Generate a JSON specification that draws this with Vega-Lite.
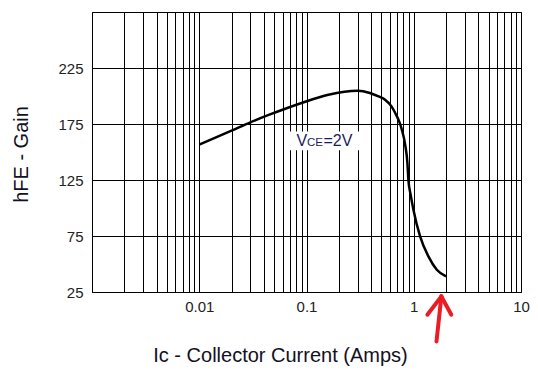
{
  "$schema": "https://vega.github.io/schema/vega-lite/v6.json",
  "autosize": {"type": "none"},
  "padding": {"left": 92, "top": 12, "right": 17, "bottom": 90},
  "width": 429,
  "height": 280,
  "background": "white",
  "config": {
    "view": {"stroke": "black", "strokeWidth": 1},
    "font": "Liberation Sans",
    "axis": {
      "grid": true,
      "gridColor": "black",
      "gridOpacity": 1,
      "gridWidth": 1,
      "ticks": false,
      "domain": false,
      "labelFont": "Liberation Sans",
      "labelFontSize": 15,
      "labelColor": "#222222",
      "titleFont": "Liberation Sans",
      "titleFontSize": 20,
      "titleFontWeight": "normal",
      "titleColor": "#111122",
      "labelOverlap": false,
      "labelFlush": false
    }
  },
  "datasets": {
    "curve": [
      {"ic": 0.01, "hfe": 156.5},
      {"ic": 0.02, "hfe": 169},
      {"ic": 0.03, "hfe": 176.5},
      {"ic": 0.045, "hfe": 183.3},
      {"ic": 0.09, "hfe": 193.8},
      {"ic": 0.16, "hfe": 201.2},
      {"ic": 0.3, "hfe": 204.7},
      {"ic": 0.39, "hfe": 202.7},
      {"ic": 0.47, "hfe": 199.6},
      {"ic": 0.54, "hfe": 196.7},
      {"ic": 0.62, "hfe": 190.7},
      {"ic": 0.67, "hfe": 185},
      {"ic": 0.74, "hfe": 176},
      {"ic": 0.774, "hfe": 170},
      {"ic": 0.83, "hfe": 157},
      {"ic": 0.873, "hfe": 140},
      {"ic": 0.891, "hfe": 125.3},
      {"ic": 0.935, "hfe": 111.9},
      {"ic": 0.993, "hfe": 98.5},
      {"ic": 1.146, "hfe": 74.6},
      {"ic": 1.37, "hfe": 56.8},
      {"ic": 1.64, "hfe": 44.9},
      {"ic": 2.0, "hfe": 38.9}
    ],
    "box": [{"x1": 0.063, "x2": 0.316, "y1": 151.5, "y2": 168.4}],
    "note": [{"ic": 0.0805, "hfe": 155.2}],
    "arrow": [
      {"xa": 1.63, "ya": -19.1, "xb": 1.81, "yb": 21.1},
      {"xa": 1.34, "ya": 4.7, "xb": 1.81, "yb": 21.1},
      {"xa": 2.24, "ya": 4.7, "xb": 1.81, "yb": 21.1}
    ]
  },
  "layer": [
    {
      "data": {"name": "box"},
      "mark": {"type": "rect", "fill": "white", "stroke": null},
      "encoding": {
        "x": {
          "field": "x1", "type": "quantitative",
          "scale": {"type": "log", "domain": [0.001, 10], "nice": false},
          "axis": {
            "values": [0.001,0.002,0.003,0.004,0.005,0.006,0.007,0.008,0.009,0.01,0.02,0.03,0.04,0.05,0.06,0.07,0.08,0.09,0.1,0.2,0.3,0.4,0.5,0.6,0.7,0.8,0.9,1,2,3,4,5,6,7,8,9,10],
            "labelExpr": "datum.value == 0.01 ? '0.01' : datum.value == 0.1 ? '0.1' : datum.value == 1 ? '1' : datum.value == 10 ? '10' : ''",
            "labelPadding": 7,
            "title": "Ic - Collector Current (Amps)",
            "titleX": 188,
            "titleY": 69,
            "titleAlign": "center",
            "titleBaseline": "alphabetic"
          }
        },
        "x2": {"field": "x2"},
        "y": {
          "field": "y1", "type": "quantitative",
          "scale": {"domain": [25, 275], "nice": false, "zero": false},
          "axis": {
            "values": [25,50,75,100,125,150,175,200,225,250,275],
            "labelExpr": "(datum.value - 25) % 50 == 0 && datum.value < 250 ? datum.label : ''",
            "labelPadding": 9,
            "title": "hFE - Gain",
            "titleX": -65,
            "titleY": 142,
            "titleAngle": -90,
            "titleAlign": "center",
            "titleBaseline": "alphabetic"
          }
        },
        "y2": {"field": "y2"}
      }
    },
    {
      "data": {"name": "curve"},
      "mark": {"type": "line", "color": "black", "strokeWidth": 2.5, "interpolate": "monotone"},
      "encoding": {
        "x": {"field": "ic", "type": "quantitative"},
        "y": {"field": "hfe", "type": "quantitative"}
      }
    },
    {
      "data": {"name": "note"},
      "mark": {"type": "text", "text": "V", "align": "left", "baseline": "alphabetic", "font": "Liberation Sans", "fontSize": 16, "color": "#1c1c5a"},
      "encoding": {
        "x": {"field": "ic", "type": "quantitative"},
        "y": {"field": "hfe", "type": "quantitative"}
      }
    },
    {
      "data": {"name": "note"},
      "mark": {"type": "text", "text": "CE", "align": "left", "baseline": "alphabetic", "dx": 10.5, "font": "Liberation Sans", "fontSize": 11.5, "color": "#1c1c5a"},
      "encoding": {
        "x": {"field": "ic", "type": "quantitative"},
        "y": {"field": "hfe", "type": "quantitative"}
      }
    },
    {
      "data": {"name": "note"},
      "mark": {"type": "text", "text": "=2V", "align": "left", "baseline": "alphabetic", "dx": 27, "font": "Liberation Sans", "fontSize": 16, "color": "#1c1c5a"},
      "encoding": {
        "x": {"field": "ic", "type": "quantitative"},
        "y": {"field": "hfe", "type": "quantitative"}
      }
    },
    {
      "data": {"name": "arrow"},
      "mark": {"type": "rule", "color": "#ec1c24", "strokeWidth": 4, "strokeCap": "round", "clip": false},
      "encoding": {
        "x": {"field": "xa", "type": "quantitative"},
        "y": {"field": "ya", "type": "quantitative"},
        "x2": {"field": "xb"},
        "y2": {"field": "yb"}
      }
    }
  ]
}
